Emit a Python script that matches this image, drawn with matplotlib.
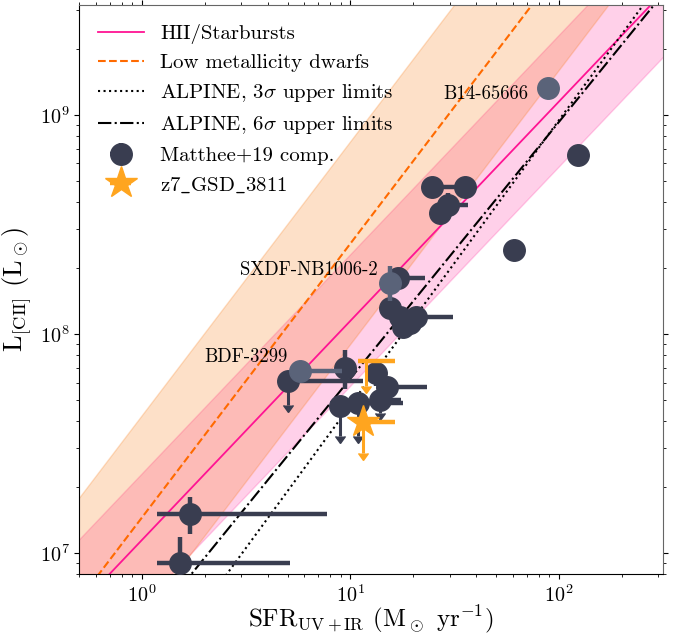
import numpy as np
import matplotlib
matplotlib.use("Agg")
import matplotlib.pyplot as plt

plt.rcParams['font.family'] = ['cmr10', 'DejaVu Serif']
plt.rcParams['mathtext.fontset'] = 'cm'
plt.rcParams['axes.formatter.use_mathtext'] = True
plt.rcParams['axes.unicode_minus'] = False

# De Looze+14 relations: log SFR = a + b log L  (and scatter in dex)
hii_a, hii_b, hii_sig = -7.06, 1.00, 0.30
dwf_a, dwf_b, dwf_sig = -5.73, 0.80, 0.37
# ALPINE upper limit lines: log L = slope * log SFR + icpt
alp3_slope, alp3_icpt = 1.30, 6.375
alp6_slope, alp6_icpt = 1.17, 6.627

# Matthee+19 comparison sample (SFR, L_CII, errors)
m_sfr = [123, 61, 24.5, 35.3, 29.4, 26.8, 16.9, 15.5, 17.3, 19.3, 20.7, 17.9,
         9.41, 14.9, 13.3, 1.70, 1.53]
m_lcii = [6.56e8, 2.42e8, 4.7e8, 4.7e8, 3.86e8, 3.56e8, 1.80e8, 1.31e8, 1.20e8,
          1.12e8, 1.20e8, 1.08e8, 6.98e7, 5.75e7, 6.6e7, 1.51e7, 9.0e6]
m_xlo = [0, 3, 0, 0, 0, 0, 0, 0, 0, 0, 0, 0, 0, 0, 0, 0.52, 0.35]
m_xhi = [0, 4, 10.8, 0, 7.2, 0, 5.8, 0, 0, 0, 10.3, 3.5, 0, 8.3, 0, 5.99, 3.6]
m_ylo = [0, 1.6e7, 0, 0, 4.8e7, 0, 0, 0, 0, 0, 0, 0, 1.4e7, 0, 8e6, 2.9e6, 1.8e6]
m_yhi = [0, 1.6e7, 0, 0, 5.2e7, 0, 0, 0, 0, 0, 0, 0, 1.45e7, 0, 9e6, 2.9e6, 2.8e6]

# Matthee+19 upper limits
ul_sfr = [5.04, 8.9, 10.9, 13.8]
ul_lcii = [6.07e7, 4.67e7, 4.83e7, 5.0e7]
ul_dex = [0.107, 0.137, 0.15, 0.06]
ul_xhi = [6.5, 0, 6.9, 3.7]

# highlighted objects
hl_names = ['B14-65666', 'SXDF-NB1006-2', 'BDF-3299']
hl_sfr = [88.6, 15.5, 5.74]
hl_lcii = [1.32e9, 1.71e8, 6.75e7]
hl_xlo = [3, 0.6, 0.3]
hl_xhi = [0, 0.8, 3.33]
hl_ylo = [0, 2.9e7, 0]
hl_yhi = [0, 3.4e7, 0]
hl_off = [(-14, -4), (-9, 9), (-9, 10)]

# z7_GSD_3811
star_sfr = [11.5]
star_lcii = [3.98e7]
star_xhi = [4.8]
star_dex = 0.143
# second limit for z7_GSD_3811 (no marker)
lim_sfr = [11.9]
lim_lcii = [7.5e7]
lim_xlo = [1.0]
lim_xhi = [4.5]
lim_dex = 0.114

dark = '#393d50'
light = '#5a6379'
star_c = '#ffa51f'

fig = plt.figure(figsize=(6.83, 6.37), dpi=100)
ax = fig.add_axes([0.116, 0.0984, 0.855, 0.8936])

lx = np.linspace(-0.5, 2.7, 200)
sfr = 10**lx
ax.fill_between(sfr, 10**((lx - hii_a - hii_sig) / hii_b), 10**((lx - hii_a + hii_sig) / hii_b),
                color='deeppink', alpha=0.2)
ax.fill_between(sfr, 10**((lx - dwf_a - dwf_sig) / dwf_b), 10**((lx - dwf_a + dwf_sig) / dwf_b),
                color='#f97306', alpha=0.22)
ax.plot(sfr, 10**((lx - hii_a) / hii_b), color='deeppink', lw=1.3, label='HII/Starbursts')
ax.plot(sfr, 10**((lx - dwf_a) / dwf_b), color='#ff6a00', ls='--', lw=1.5,
        label='Low metallicity dwarfs')
ax.plot(sfr, 10**(alp3_slope * lx + alp3_icpt), color='k', ls=':', lw=1.5,
        label=r'ALPINE, $3\sigma$ upper limits')
ax.plot(sfr, 10**(alp6_slope * lx + alp6_icpt), color='k', ls='-.', lw=1.5,
        label=r'ALPINE, $6\sigma$ upper limits')

ms = 15.5
eb = dict(elinewidth=3.2, capsize=0)

# upper limits
ul_sfr_a = np.array(ul_sfr)
ul_l = np.array(ul_lcii)
ax.errorbar(ul_sfr_a, ul_l, yerr=ul_l * (1 - 10**(-np.array(ul_dex))), uplims=True,
            fmt='none', color=dark, ecolor=dark, elinewidth=2.2, capsize=3.5, zorder=3)
ax.errorbar(ul_sfr_a, ul_l, xerr=[np.zeros(len(ul_sfr)), ul_xhi], fmt='o', ms=ms,
            color=dark, ecolor=dark, zorder=4, **eb)

ax.errorbar(m_sfr, m_lcii, xerr=[m_xlo, m_xhi], yerr=[m_ylo, m_yhi], fmt='o', ms=ms,
            color=dark, ecolor=dark, zorder=4, label='Matthee+19 comp.', **eb)

ax.errorbar(hl_sfr, hl_lcii, xerr=[hl_xlo, hl_xhi], yerr=[hl_ylo, hl_yhi], fmt='o', ms=ms,
            color=light, ecolor=light, zorder=5, **eb)
for name, xs, ys, off in zip(hl_names, hl_sfr, hl_lcii, hl_off):
    ax.annotate(name, (xs, ys), xytext=off, textcoords='offset points',
                ha='right', va='center', fontsize=13.5)

# z7_GSD_3811
st_l = np.array(star_lcii)
ax.errorbar(star_sfr, st_l, yerr=st_l * (1 - 10**(-star_dex)), uplims=True, fmt='none',
            color=star_c, ecolor=star_c, elinewidth=2.2, capsize=3.5, zorder=6)
ax.errorbar(star_sfr, st_l, xerr=[[0], star_xhi], fmt='*', ms=24, color=star_c,
            ecolor=star_c, zorder=7, label=r'z7$\_$GSD$\_$3811', **eb)
lm_l = np.array(lim_lcii)
ax.errorbar(lim_sfr, lm_l, yerr=lm_l * (1 - 10**(-lim_dex)), uplims=True, fmt='none',
            color=star_c, ecolor=star_c, elinewidth=2.2, capsize=3.5, zorder=6)
ax.errorbar(lim_sfr, lm_l, xerr=[lim_xlo, lim_xhi], fmt='none', ecolor=star_c,
            zorder=6, **eb)

ax.set_xscale('log')
ax.set_yscale('log')
ax.set_xlim(0.5, 10**2.5)
ax.set_ylim(8e6, 10**9.5)
ax.set_xlabel(r'SFR$_{\rm UV+IR}$ (M$_\odot$ yr$^{-1}$)', fontsize=18, labelpad=-1.5)
ax.set_ylabel(r'L$_{\rm [CII]}$ (L$_\odot$)', fontsize=19, labelpad=4)
ax.tick_params(which='both', top=True, right=True, labelsize=14.5)
for s in ['top', 'right']:
    ax.spines[s].set_color('0.4')

h, l = ax.get_legend_handles_labels()
leg = ax.legend(h, l, loc='upper left', frameon=False, fontsize=15,
                handlelength=2.2, labelspacing=0.48, borderaxespad=0.5)

fig.savefig('out.png', dpi=100)
